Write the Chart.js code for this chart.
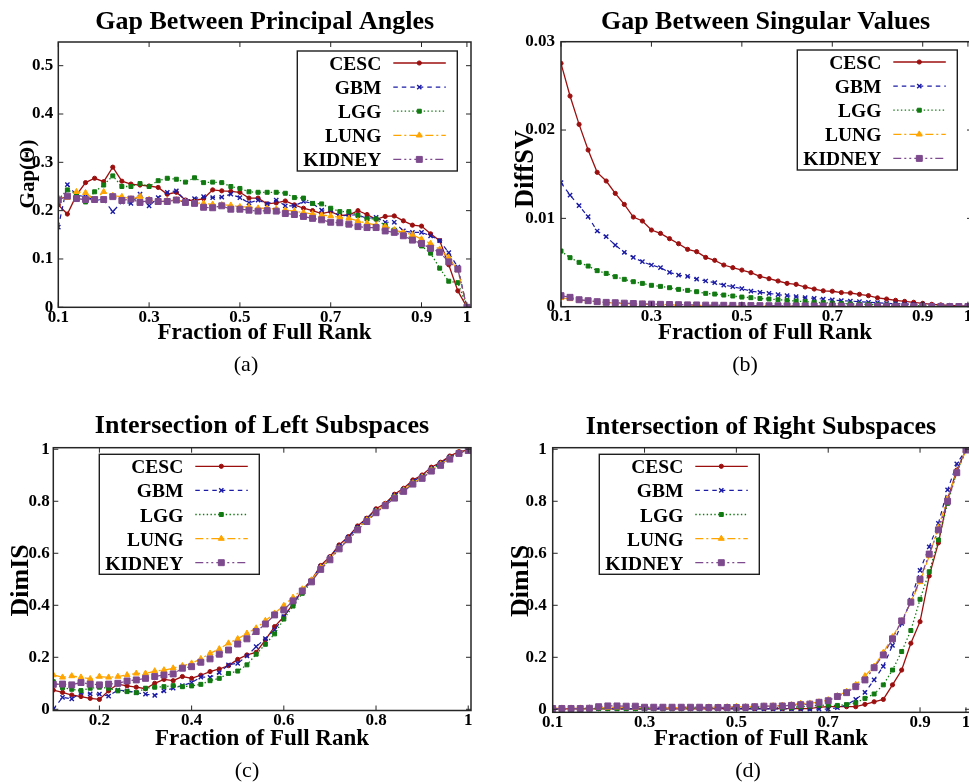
<!DOCTYPE html>
<html>
<head>
<meta charset="utf-8">
<title>Subspace comparison across cancer types</title>
<script src="https://cdn.jsdelivr.net/npm/chart.js@4.4.1/dist/chart.umd.min.js"></script>
<style>
  html, body { margin: 0; padding: 0; background: #fff; }
  body { width: 969px; height: 782px; overflow: hidden; position: relative; }
  canvas { position: absolute; }
</style>
</head>
<body>
<canvas id="pa"></canvas>
<canvas id="pb"></canvas>
<canvas id="pc"></canvas>
<canvas id="pd"></canvas>
<script>
// ---------- data ----------
const fractions = [0.10,0.12,0.14,0.16,0.18,0.20,0.22,0.24,0.26,0.28,0.30,0.32,0.34,0.36,0.38,0.40,0.42,0.44,0.46,0.48,
                   0.50,0.52,0.54,0.56,0.58,0.60,0.62,0.64,0.66,0.68,0.70,0.72,0.74,0.76,0.78,0.80,0.82,0.84,0.86,0.88,
                   0.90,0.92,0.94,0.96,0.98,1.00];

const seriesNames = ['CESC', 'GBM', 'LGG', 'LUNG', 'KIDNEY'];

// (a) gap between principal angles
const gapCESC   = [0.212,0.193,0.232,0.258,0.267,0.260,0.290,0.261,0.255,0.253,0.251,0.248,0.234,0.238,0.222,0.221,0.225,0.243,0.241,0.240,
                   0.238,0.226,0.226,0.214,0.216,0.220,0.212,0.205,0.200,0.194,0.198,0.190,0.191,0.200,0.192,0.182,0.188,0.189,0.179,0.170,
                   0.168,0.152,0.138,0.088,0.034,0.000];
const gapGBM    = [0.166,0.254,0.232,0.229,0.222,0.222,0.198,0.218,0.215,0.234,0.210,0.227,0.238,0.241,0.221,0.225,0.229,0.227,0.228,0.234,
                   0.227,0.216,0.222,0.214,0.222,0.210,0.210,0.219,0.215,0.201,0.201,0.189,0.191,0.191,0.184,0.186,0.176,0.176,0.158,0.155,
                   0.155,0.148,0.138,0.113,0.083,0.000];
const gapLGG    = [0.223,0.243,0.234,0.218,0.239,0.253,0.272,0.250,0.250,0.256,0.250,0.262,0.267,0.265,0.259,0.268,0.258,0.259,0.258,0.250,
                   0.246,0.239,0.238,0.238,0.238,0.236,0.227,0.226,0.215,0.214,0.205,0.198,0.198,0.190,0.183,0.183,0.169,0.160,0.153,0.141,
                   0.127,0.112,0.081,0.054,0.051,0.000];
const gapLUNG   = [0.227,0.227,0.239,0.237,0.222,0.239,0.231,0.229,0.224,0.229,0.223,0.217,0.221,0.222,0.218,0.216,0.215,0.213,0.212,0.211,
                   0.208,0.208,0.205,0.205,0.203,0.201,0.199,0.196,0.193,0.191,0.189,0.186,0.184,0.179,0.174,0.170,0.167,0.160,0.155,0.150,
                   0.141,0.132,0.120,0.103,0.077,0.000];
const gapKIDNEY = [0.222,0.230,0.225,0.223,0.223,0.223,0.229,0.221,0.224,0.217,0.221,0.219,0.219,0.222,0.217,0.215,0.207,0.206,0.210,0.203,
                   0.203,0.201,0.199,0.200,0.199,0.194,0.192,0.188,0.184,0.181,0.176,0.175,0.172,0.167,0.165,0.165,0.158,0.155,0.148,0.139,
                   0.132,0.122,0.114,0.094,0.079,0.000];

// (b) gap between singular values
const svCESC   = [0.02755,0.02385,0.02064,0.01774,0.01521,0.01423,0.01283,0.01158,0.01015,0.00970,0.00868,0.00830,0.00770,0.00713,0.00649,
                  0.00623,0.00558,0.00525,0.00472,0.00442,0.00415,0.00385,0.00343,0.00317,0.00291,0.00264,0.00253,0.00223,0.00200,0.00180,
                  0.00175,0.00160,0.00155,0.00140,0.00125,0.00100,0.00087,0.00072,0.00060,0.00050,0.00038,0.00027,0.00020,0.00015,0.00010,0.00005];
const svGBM    = [0.01404,0.01264,0.01143,0.01019,0.00857,0.00792,0.00698,0.00615,0.00558,0.00509,0.00472,0.00442,0.00389,0.00358,0.00343,
                  0.00313,0.00291,0.00272,0.00245,0.00226,0.00204,0.00177,0.00162,0.00151,0.00136,0.00125,0.00113,0.00102,0.00095,0.00087,
                  0.00076,0.00068,0.00064,0.00057,0.00050,0.00045,0.00038,0.00034,0.00030,0.00027,0.00020,0.00015,0.00011,0.00008,0.00005,0.00003];
const svLGG    = [0.00630,0.00555,0.00502,0.00460,0.00408,0.00377,0.00340,0.00310,0.00283,0.00264,0.00242,0.00230,0.00215,0.00196,0.00185,
                  0.00170,0.00151,0.00143,0.00132,0.00121,0.00109,0.00102,0.00094,0.00087,0.00079,0.00072,0.00064,0.00057,0.00050,0.00045,
                  0.00040,0.00036,0.00032,0.00028,0.00025,0.00022,0.00020,0.00017,0.00015,0.00013,0.00011,0.00009,0.00007,0.00005,0.00004,0.00002];
const svLUNG   = [0.00100,0.00088,0.00075,0.00064,0.00055,0.00047,0.00041,0.00036,0.00032,0.00028,0.00025,0.00022,0.00020,0.00018,0.00016,
                  0.00014,0.00013,0.00012,0.00011,0.00010,0.00009,0.00008,0.00007,0.00007,0.00006,0.00006,0.00005,0.00005,0.00004,0.00004,
                  0.00004,0.00003,0.00003,0.00003,0.00002,0.00002,0.00002,0.00002,0.00001,0.00001,0.00001,0.00001,0.00001,0.00001,0.00000,0.00000];
const svKIDNEY = [0.00125,0.00106,0.00079,0.00068,0.00057,0.00049,0.00045,0.00040,0.00036,0.00032,0.00030,0.00027,0.00025,0.00023,0.00021,
                  0.00020,0.00018,0.00017,0.00016,0.00015,0.00014,0.00013,0.00012,0.00011,0.00011,0.00010,0.00009,0.00009,0.00008,0.00008,
                  0.00007,0.00007,0.00006,0.00006,0.00005,0.00005,0.00005,0.00004,0.00004,0.00004,0.00003,0.00003,0.00003,0.00002,0.00002,0.00002];

// (c) dimension of intersection, left subspaces
const lsCESC   = [0.074,0.065,0.055,0.049,0.042,0.038,0.071,0.097,0.090,0.085,0.079,0.100,0.115,0.110,0.126,0.119,0.131,0.145,0.155,0.168,
                  0.192,0.209,0.219,0.267,0.318,0.356,0.405,0.459,0.497,0.553,0.587,0.632,0.664,0.705,0.735,0.771,0.792,0.827,0.850,0.882,
                  0.901,0.931,0.950,0.974,0.991,0.997];
const lsGBM    = [0.000,0.046,0.040,0.064,0.059,0.058,0.051,0.074,0.071,0.064,0.058,0.054,0.071,0.081,0.091,0.103,0.124,0.123,0.141,0.171,
                  0.177,0.205,0.241,0.272,0.305,0.356,0.405,0.455,0.494,0.549,0.583,0.628,0.661,0.700,0.733,0.766,0.788,0.823,0.846,0.877,
                  0.896,0.926,0.946,0.970,0.988,0.997];
const lsLGG    = [0.106,0.083,0.077,0.072,0.081,0.085,0.081,0.071,0.068,0.064,0.081,0.085,0.087,0.091,0.087,0.090,0.096,0.110,0.119,0.138,
                  0.147,0.171,0.212,0.250,0.290,0.347,0.397,0.446,0.490,0.540,0.578,0.622,0.655,0.695,0.728,0.762,0.785,0.818,0.843,0.872,
                  0.893,0.922,0.943,0.966,0.986,0.997];
const lsLUNG   = [0.132,0.123,0.128,0.123,0.117,0.126,0.123,0.126,0.132,0.138,0.138,0.147,0.151,0.158,0.167,0.177,0.194,0.215,0.232,0.254,
                  0.271,0.292,0.312,0.341,0.369,0.399,0.430,0.462,0.497,0.545,0.580,0.620,0.654,0.692,0.727,0.760,0.786,0.816,0.842,0.870,
                  0.892,0.920,0.942,0.965,0.985,0.997];
const lsKIDNEY = [0.096,0.097,0.094,0.103,0.097,0.094,0.097,0.100,0.109,0.113,0.119,0.126,0.132,0.136,0.158,0.164,0.181,0.194,0.212,0.228,
                  0.251,0.271,0.299,0.328,0.363,0.382,0.417,0.455,0.490,0.538,0.575,0.617,0.652,0.690,0.722,0.756,0.783,0.812,0.838,0.866,
                  0.888,0.916,0.938,0.962,0.984,0.995];

// (d) dimension of intersection, right subspaces
const rsCESC   = [0.002,0.002,0.002,0.002,0.002,0.002,0.002,0.002,0.002,0.002,0.002,0.002,0.002,0.002,0.002,0.002,0.002,0.002,0.003,0.003,
                  0.003,0.003,0.003,0.003,0.003,0.003,0.003,0.003,0.003,0.008,0.010,0.010,0.010,0.010,0.019,0.029,0.038,0.094,0.151,0.254,
                  0.337,0.513,0.640,0.808,0.920,0.997];
const rsGBM    = [0.002,0.002,0.002,0.002,0.002,0.002,0.002,0.002,0.002,0.002,0.002,0.002,0.002,0.002,0.002,0.002,0.002,0.002,0.002,0.002,
                  0.002,0.002,0.002,0.002,0.002,0.002,0.002,0.001,0.001,0.001,0.001,0.006,0.017,0.038,0.065,0.113,0.165,0.246,0.330,0.420,
                  0.534,0.625,0.715,0.844,0.944,0.997];
const rsLGG    = [0.003,0.003,0.003,0.003,0.003,0.003,0.003,0.003,0.003,0.003,0.003,0.004,0.004,0.004,0.005,0.005,0.005,0.006,0.006,0.006,
                  0.006,0.007,0.007,0.007,0.007,0.007,0.007,0.010,0.012,0.015,0.016,0.015,0.018,0.025,0.042,0.059,0.094,0.151,0.222,0.303,
                  0.423,0.529,0.651,0.792,0.912,0.997];
const rsLUNG   = [0.004,0.004,0.004,0.004,0.005,0.006,0.007,0.008,0.008,0.007,0.006,0.006,0.006,0.006,0.007,0.007,0.007,0.008,0.008,0.009,
                  0.010,0.010,0.011,0.012,0.013,0.015,0.018,0.022,0.023,0.028,0.036,0.052,0.068,0.095,0.128,0.165,0.218,0.278,0.340,0.412,
                  0.490,0.590,0.700,0.810,0.912,0.997];
const rsKIDNEY = [0.003,0.003,0.003,0.003,0.004,0.010,0.013,0.013,0.012,0.012,0.008,0.008,0.008,0.008,0.008,0.008,0.008,0.007,0.007,0.007,
                  0.007,0.008,0.010,0.012,0.012,0.013,0.015,0.018,0.020,0.027,0.033,0.049,0.064,0.087,0.113,0.160,0.209,0.271,0.340,0.412,
                  0.500,0.597,0.690,0.800,0.910,0.997];

// tick values (labels are the values themselves)
const xTicksAB = [0.1, 0.3, 0.5, 0.7, 0.9, 1];
const xTicksC  = [0.2, 0.4, 0.6, 0.8, 1];
const xTicksD  = [0.1, 0.3, 0.5, 0.7, 0.9, 1];
const yTicksA  = [0, 0.1, 0.2, 0.3, 0.4, 0.5];
const yTicksB  = [0, 0.01, 0.02, 0.03];
const yTicksCD = [0, 0.2, 0.4, 0.6, 0.8, 1];

// ---------- styles ----------
const SERIF = '"Liberation Serif", "Times New Roman", serif';
const lineStyles = [
  { color: '#9c0f0f', dash: [],               point: 'circle',   radius: 2.1, width: 1.3, pbw: 1 },
  { color: '#1b1ba6', dash: [4.5, 4],         point: 'crossRot', radius: 3.0, width: 1.2, pbw: 1.4 },
  { color: '#117a11', dash: [1.4, 2.4],       point: 'rect',     radius: 2.8, width: 1.3, pbw: 1 },
  { color: '#ffa500', dash: [8, 3, 2, 3],     point: 'triangle', radius: 3.4, width: 1.3, pbw: 1 },
  { color: '#7e4a8e', dash: [8, 3, 2, 3, 2, 3], point: 'rect',   radius: 4.2, width: 1.3, pbw: 1 }
];

function drawMarker(ctx, st, x, y) {
  ctx.setLineDash([]);
  ctx.fillStyle = st.color;
  ctx.strokeStyle = st.color;
  ctx.lineWidth = st.pbw;
  Chart.helpers.drawPoint(ctx, { pointStyle: st.point, radius: st.radius, borderWidth: st.pbw, rotation: 0 }, x, y);
}

// frame, inner ticks, titles, captions and the key
const panelDecor = {
  id: 'panelDecor',
  afterDraw(chart, args, o) {
    const ctx = chart.ctx, a = chart.chartArea;
    const xs = chart.scales.x, ys = chart.scales.y;
    ctx.save();
    ctx.setLineDash([]);
    ctx.strokeStyle = '#262626';
    ctx.lineWidth = 1;
    ctx.beginPath();
    xs.ticks.forEach(t => {
      const px = xs.getPixelForValue(t.value);
      ctx.moveTo(px, a.bottom); ctx.lineTo(px, a.bottom - 5);
      ctx.moveTo(px, a.top);    ctx.lineTo(px, a.top + 5);
    });
    ys.ticks.forEach(t => {
      const py = ys.getPixelForValue(t.value);
      ctx.moveTo(a.left, py);  ctx.lineTo(a.left + 5, py);
      ctx.moveTo(a.right, py); ctx.lineTo(a.right - 5, py);
    });
    ctx.stroke();
    ctx.lineWidth = 1.5;
    ctx.strokeRect(a.left, a.top, a.right - a.left, a.bottom - a.top);

    ctx.fillStyle = '#000';
    ctx.textBaseline = 'alphabetic';
    ctx.textAlign = 'center';
    ctx.font = 'bold 26px ' + SERIF;
    ctx.fillText(o.title, o.titleX, o.titleY);
    ctx.font = 'bold 23px ' + SERIF;
    ctx.fillText('Fraction of Full Rank', o.xLabelX, o.xLabelY);
    ctx.font = '22px ' + SERIF;
    ctx.fillText(o.caption, o.captionX, o.captionY);

    ctx.save();
    ctx.translate(o.yLabelX, o.yLabelY);
    ctx.rotate(-Math.PI / 2);
    ctx.font = 'bold ' + o.yLabelSize + 'px ' + SERIF;
    ctx.fillText(o.yLabel, 0, 0);
    ctx.restore();

    // key
    const bx = o.keyX, by = o.keyY;
    ctx.fillStyle = '#fff';
    ctx.fillRect(bx, by, 160, 120);
    ctx.strokeStyle = '#1e1e1e';
    ctx.lineWidth = 1.4;
    ctx.strokeRect(bx, by, 160, 120);
    ctx.font = 'bold 19.5px ' + SERIF;
    ctx.textAlign = 'right';
    seriesNames.forEach((name, i) => {
      const st = lineStyles[i];
      const cy = by + 12 + i * 24.1;
      ctx.fillStyle = '#000';
      ctx.fillText(name, bx + 84, cy + 7);
      ctx.strokeStyle = st.color;
      ctx.lineWidth = st.width;
      ctx.setLineDash(st.dash);
      ctx.beginPath();
      ctx.moveTo(bx + 96, cy); ctx.lineTo(bx + 148.5, cy);
      ctx.stroke();
      drawMarker(ctx, st, bx + 122, cy);
    });
    ctx.restore();
  }
};

function makePanel(p) {
  const cv = document.getElementById(p.id);
  cv.width = p.w; cv.height = p.h;
  cv.style.left = p.left + 'px'; cv.style.top = p.top + 'px';
  cv.style.width = p.w + 'px'; cv.style.height = p.h + 'px';
  const tickFont = { family: SERIF, size: 17, weight: 'bold' };
  const datasets = p.series.map((vals, i) => {
    const st = lineStyles[i];
    return {
      label: seriesNames[i],
      data: fractions.map((x, k) => ({ x: x, y: vals[k] })),
      borderColor: st.color,
      backgroundColor: st.color,
      borderWidth: st.width,
      borderDash: st.dash,
      pointStyle: st.point,
      pointRadius: st.radius,
      pointBorderWidth: st.pbw,
      pointBackgroundColor: st.color,
      pointBorderColor: st.color,
      tension: 0,
      fill: false,
      order: 4 - i
    };
  });
  return new Chart(cv, {
    type: 'line',
    data: { datasets },
    options: {
      responsive: false,
      animation: false,
      events: [],
      layout: { padding: { left: 0, top: p.area.t, right: p.w - p.area.r, bottom: 0 } },
      plugins: {
        legend: { display: false },
        tooltip: { enabled: false },
        panelDecor: p.decor
      },
      scales: {
        x: {
          type: 'linear', min: p.xMin, max: p.xMax,
          afterBuildTicks: s => { s.ticks = p.xTicks.map(v => ({ value: v })); },
          afterFit: s => { s.height = p.h - p.area.b; },
          grid: { display: false, drawTicks: false },
          border: { display: false },
          ticks: { autoSkip: false, maxRotation: 0, padding: p.xPad, color: '#000', font: tickFont,
                   callback: v => String(v) }
        },
        y: {
          type: 'linear', min: p.yMin, max: p.yMax,
          afterBuildTicks: s => { s.ticks = p.yTicks.map(v => ({ value: v })); },
          afterFit: s => { s.width = p.area.l; },
          grid: { display: false, drawTicks: false },
          border: { display: false },
          ticks: { autoSkip: false, padding: p.yPad, color: '#000', font: tickFont,
                   callback: v => String(v) }
        }
      }
    },
    plugins: [panelDecor]
  });
}

makePanel({
  id: 'pa', left: 0, top: 0, w: 484, h: 391,
  area: { l: 58.3, t: 42, r: 471, b: 307.3 },
  xMin: 0.1, xMax: 1.009, yMin: 0, yMax: 0.549,
  xTicks: xTicksAB, yTicks: yTicksA, xPad: 0, yPad: 5,
  series: [gapCESC, gapGBM, gapLGG, gapLUNG, gapKIDNEY],
  decor: { title: 'Gap Between Principal Angles', titleX: 264.7, titleY: 28.5,
           xLabelX: 264.5, xLabelY: 339, caption: '(a)', captionX: 246, captionY: 371,
           yLabel: 'Gap(\u0398)', yLabelSize: 21, yLabelX: 34, yLabelY: 174,
           keyX: 297.3, keyY: 51 }
});

makePanel({
  id: 'pb', left: 484, top: 0, w: 500, h: 391,
  area: { l: 77, t: 41.7, r: 488, b: 306.7 },
  xMin: 0.1, xMax: 1.009, yMin: 0, yMax: 0.03,
  xTicks: xTicksAB, yTicks: yTicksB, xPad: 0, yPad: 6,
  series: [svCESC, svGBM, svLGG, svLUNG, svKIDNEY],
  decor: { title: 'Gap Between Singular Values', titleX: 281.5, titleY: 29,
           xLabelX: 281, xLabelY: 339, caption: '(b)', captionX: 261, captionY: 371,
           yLabel: 'DiffSV', yLabelSize: 26.5, yLabelX: 49, yLabelY: 169,
           keyX: 313.3, keyY: 50 }
});

makePanel({
  id: 'pc', left: 0, top: 391, w: 484, h: 391,
  area: { l: 53.3, t: 56.7, r: 471, b: 319.5 },
  xMin: 0.1, xMax: 1.006, yMin: -0.0046, yMax: 1.006,
  xTicks: xTicksC, yTicks: yTicksCD, xPad: 0, yPad: 3.5,
  series: [lsCESC, lsGBM, lsLGG, lsLUNG, lsKIDNEY],
  decor: { title: 'Intersection of Left Subspaces', titleX: 262, titleY: 42.3,
           xLabelX: 262, xLabelY: 354, caption: '(c)', captionX: 247, captionY: 386,
           yLabel: 'DimIS', yLabelSize: 26, yLabelX: 28.3, yLabelY: 189.3,
           keyX: 99.3, keyY: 63.3 }
});

makePanel({
  id: 'pd', left: 484, top: 391, w: 500, h: 391,
  area: { l: 68.7, t: 56.7, r: 486, b: 321.3 },
  xMin: 0.1, xMax: 1.0088, yMin: -0.0115, yMax: 1.006,
  xTicks: xTicksD, yTicks: yTicksCD, xPad: 0, yPad: 6,
  series: [rsCESC, rsGBM, rsLGG, rsLUNG, rsKIDNEY],
  decor: { title: 'Intersection of Right Subspaces', titleX: 277, titleY: 43,
           xLabelX: 277, xLabelY: 354, caption: '(d)', captionX: 264, captionY: 386,
           yLabel: 'DimIS', yLabelSize: 26, yLabelX: 43.7, yLabelY: 189.8,
           keyX: 115.3, keyY: 63.3 }
});
</script>
</body>
</html>
